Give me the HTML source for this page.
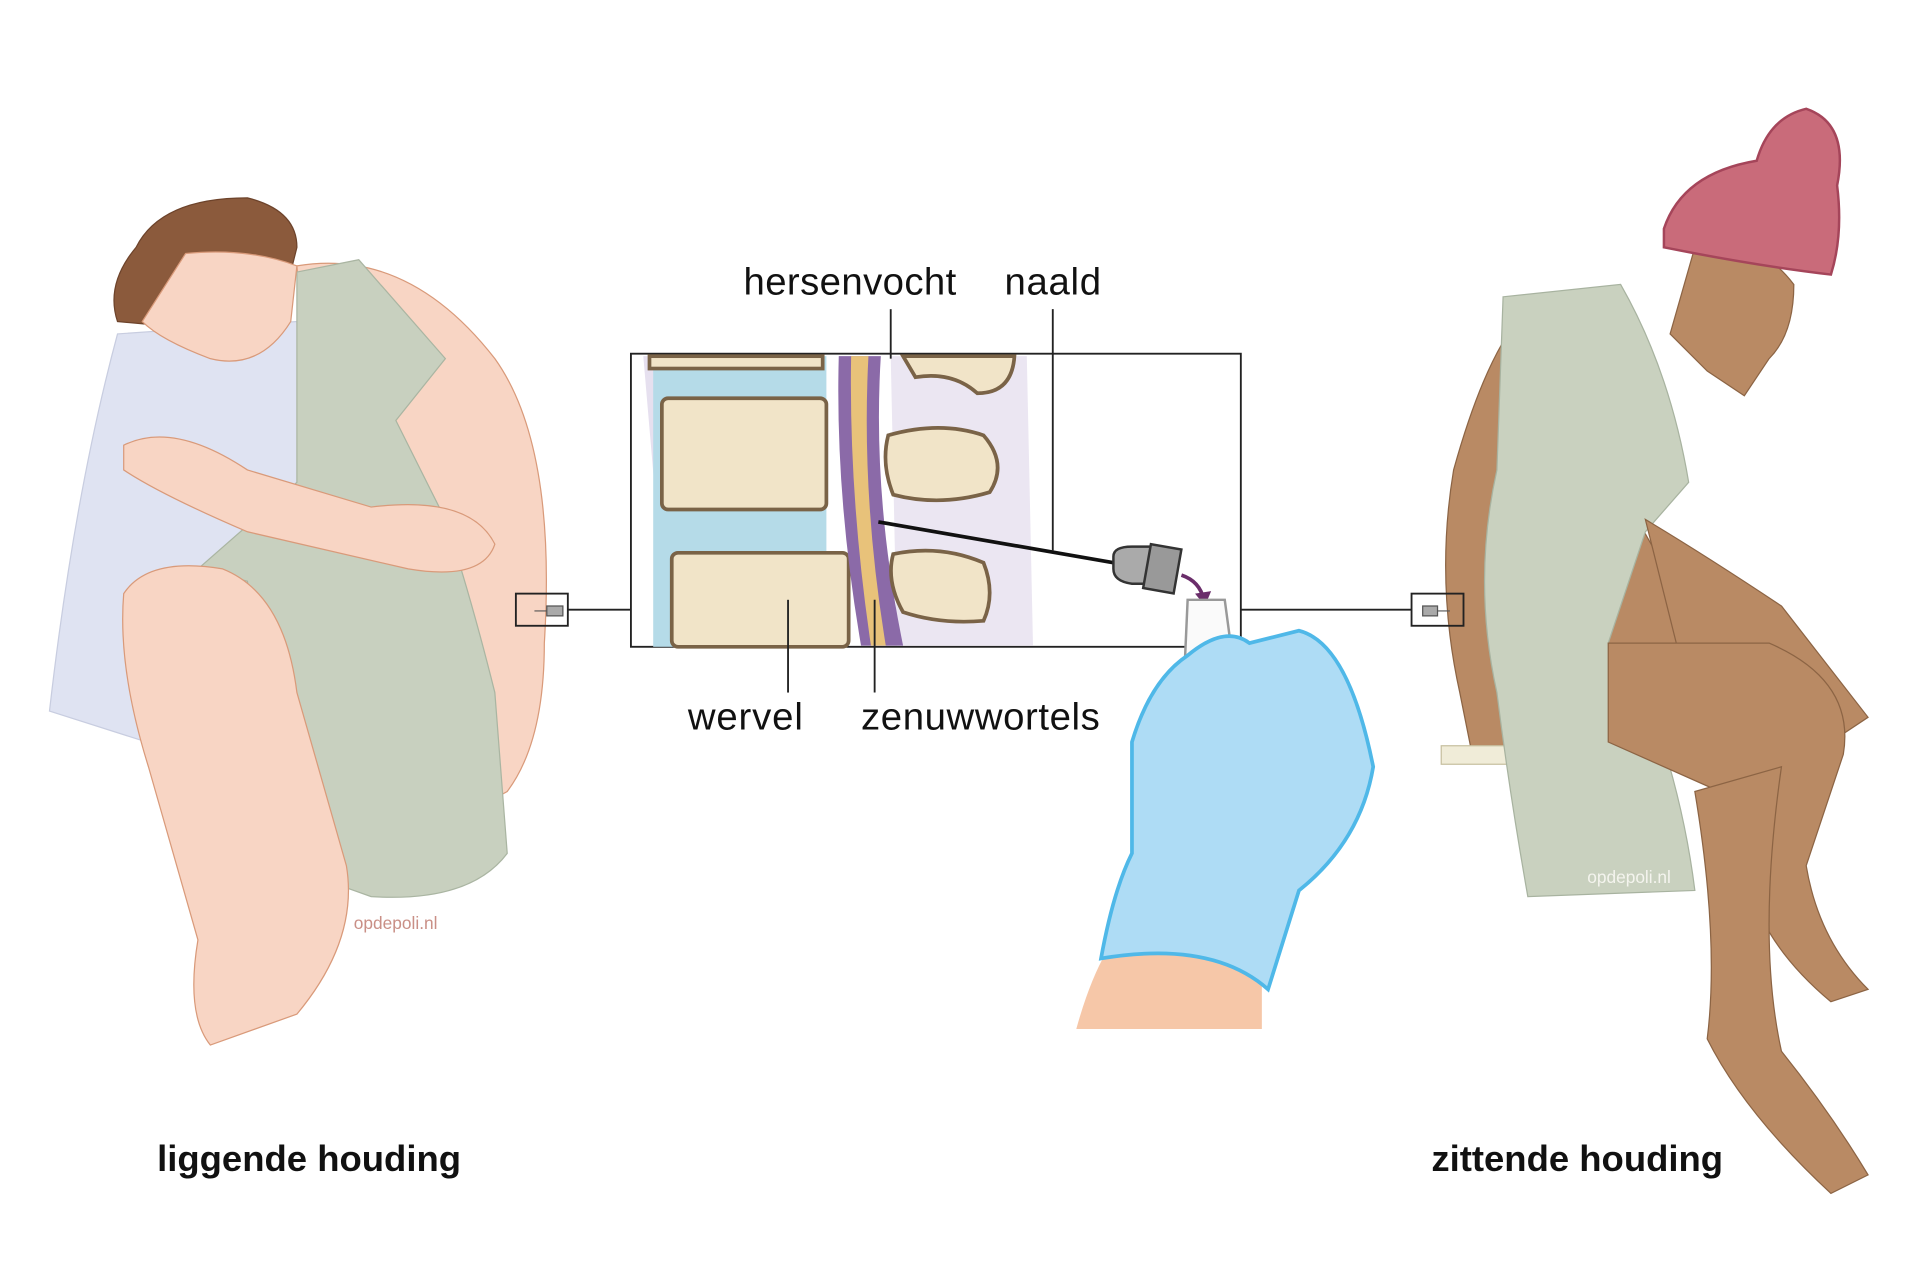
<!DOCTYPE html>
<html><head><meta charset="utf-8"><style>
html,body{margin:0;padding:0;background:#fff;width:1920px;height:1280px;overflow:hidden}
svg{display:block}
text{font-family:"Liberation Sans",sans-serif}
</style></head><body>
<svg width="1920" height="1280" viewBox="0 0 1552 1035" preserveAspectRatio="none" xmlns="http://www.w3.org/2000/svg">
<!-- LEFT FIGURE -->
<path d="M95,270 Q60,400 40,575 L150,610 L250,600 L260,470 L240,260 Z" fill="#dfe3f2" stroke="#c8cde0"/>
<path d="M240,215 Q330,200 400,290 Q450,360 440,520 Q440,600 410,640 L300,700 L260,470 Z" fill="#f8d5c4" stroke="#d99a7a"/>
<path d="M240,220 L290,210 L360,290 L320,340 L360,420 Q380,480 400,560 L410,690 Q380,730 300,725 L230,700 L200,470 L160,460 L240,390 Z" fill="#c8d0bf" stroke="#aab5a2"/>
<path d="M100,480 Q120,450 180,460 Q230,480 240,560 L280,700 Q290,760 240,820 L170,845 Q150,820 160,760 L120,620 Q95,540 100,480 Z" fill="#f8d5c4" stroke="#d99a7a"/>
<path d="M100,360 Q140,340 200,380 L300,410 Q380,400 400,440 Q390,470 330,460 L200,430 Q130,400 100,380 Z" fill="#f8d5c4" stroke="#d99a7a"/>
<path d="M110,200 Q130,160 200,160 Q240,170 240,200 L230,240 Q190,220 170,240 L150,265 L95,260 Q85,230 110,200 Z" fill="#8b5a3c" stroke="#6d432b"/>
<path d="M150,205 Q200,200 240,215 L235,260 Q210,300 170,290 Q130,275 115,260 Z" fill="#f8d5c4" stroke="#d99a7a"/>
<text x="286" y="751" font-size="14" fill="#c98f86">opdepoli.nl</text>
<text x="127" y="947" font-size="29.5" font-weight="bold" fill="#111">liggende houding</text>
<!-- small box left -->
<rect x="417" y="480" width="42" height="26" fill="none" stroke="#222" stroke-width="1.5"/>
<path d="M432,494 L442,494 M442,490 L455,490 L455,498 L442,498 Z" fill="#aaa" stroke="#555"/>
<line x1="459" y1="493" x2="510" y2="493" stroke="#222" stroke-width="1.5"/>
<!-- CENTER BOX -->
<rect x="510" y="286" width="493" height="237" fill="#fff" stroke="#222" stroke-width="1.5"/>
<path d="M520,288 L560,288 L560,522 L540,522 Z" fill="#e6e0ef"/>
<path d="M720,288 L830,288 L835,522 L725,522 Z" fill="#ebe6f2"/>
<rect x="528" y="288" width="140" height="235" fill="#b5dbe8"/>
<rect x="525" y="288" width="140" height="10" fill="#f1e4c8" stroke="#7a6347" stroke-width="3"/>
<rect x="535" y="322" width="133" height="90" rx="5" fill="#f1e4c8" stroke="#7a6347" stroke-width="3"/>
<rect x="543" y="447" width="143" height="76" rx="5" fill="#f1e4c8" stroke="#7a6347" stroke-width="3"/>
<path d="M678,288 L712,288 Q705,400 730,522 L696,522 Q675,400 678,288 Z" fill="#8b6aa8"/>
<path d="M688,288 L702,288 Q696,400 716,522 L704,522 Q686,400 688,288 Z" fill="#e8c27a"/>
<path d="M730,288 L820,288 Q818,318 790,318 Q770,300 740,305 Z" fill="#f1e4c8" stroke="#7a6347" stroke-width="3"/>
<path d="M718,352 Q760,340 795,352 Q815,375 800,398 Q760,410 722,400 Q712,375 718,352 Z" fill="#f1e4c8" stroke="#7a6347" stroke-width="3"/>
<path d="M722,448 Q760,440 795,455 Q805,480 795,502 Q760,505 730,495 Q716,470 722,448 Z" fill="#f1e4c8" stroke="#7a6347" stroke-width="3"/>
<line x1="710" y1="422" x2="900" y2="455" stroke="#111" stroke-width="3"/>
<path d="M900,450 Q900,442 915,442 L930,442 L930,472 L915,472 Q900,470 900,460 Z" fill="#aaa" stroke="#333" stroke-width="2"/>
<rect x="927" y="442" width="25" height="36" transform="rotate(10 940 460)" fill="#999" stroke="#333" stroke-width="2"/>
<path d="M955,465 Q970,470 973,485" fill="none" stroke="#6a2d6a" stroke-width="3"/>
<path d="M966,480 L974,490 L979,478 Z" fill="#6a2d6a"/>
<!-- labels -->
<text x="601" y="238" font-size="31" fill="#111" textLength="172">hersenvocht</text>
<text x="812" y="238" font-size="31" fill="#111" textLength="78">naald</text>
<line x1="720" y1="250" x2="720" y2="290" stroke="#222" stroke-width="1.5"/>
<line x1="851" y1="250" x2="851" y2="445" stroke="#222" stroke-width="1.5"/>
<line x1="637" y1="485" x2="637" y2="560" stroke="#222" stroke-width="1.5"/>
<line x1="707" y1="485" x2="707" y2="560" stroke="#222" stroke-width="1.5"/>
<text x="556" y="590" font-size="31" fill="#111" textLength="93">wervel</text>
<text x="696" y="590" font-size="31" fill="#111" textLength="193">zenuwwortels</text>
<line x1="1003" y1="493" x2="1141" y2="493" stroke="#222" stroke-width="1.5"/>
<!-- hand -->
<path d="M870,832 Q890,760 920,740 L1020,740 L1020,832 Z" fill="#f6c7a8"/>
<path d="M960,485 L990,485 L996,530 L958,530 Z" fill="#fafafa" stroke="#999" stroke-width="2"/>
<path d="M890,775 Q900,720 915,690 L915,600 Q930,550 960,530 Q990,505 1010,520 L1050,510 Q1090,520 1110,620 Q1100,680 1050,720 L1025,800 Q980,760 890,775 Z" fill="#aedcf5" stroke="#4fb8e8" stroke-width="3"/>
<!-- RIGHT FIGURE -->
<path d="M1230,255 Q1200,290 1175,380 Q1160,470 1180,560 L1190,610 L1300,620 L1380,520 Z" fill="#b98a64" stroke="#8c6444"/>
<path d="M1165,603 L1390,603 L1390,618 L1165,618 Z" fill="#f0ecd8" stroke="#c7c0a0"/>
<path d="M1370,200 Q1420,190 1450,230 Q1450,270 1430,290 L1410,320 L1380,300 L1350,270 Z" fill="#b98a64" stroke="#8c6444"/>
<path d="M1345,185 Q1360,140 1420,130 Q1430,95 1460,88 Q1495,100 1485,150 Q1490,190 1480,222 Q1420,215 1345,200 Z" fill="#c96b7a" stroke="#a5455a" stroke-width="2"/>
<path d="M1215,240 L1310,230 Q1350,300 1365,390 L1330,430 L1300,520 L1330,560 Q1360,640 1370,720 L1235,725 Q1220,640 1210,560 Q1190,470 1210,380 Z" fill="#c9d1bf" stroke="#a8b3a0"/>
<path d="M1330,420 Q1380,450 1440,490 L1510,580 L1480,600 L1430,560 L1360,540 Z" fill="#b98a64" stroke="#8c6444"/>
<path d="M1300,520 L1430,520 Q1500,550 1490,610 L1460,700 Q1470,760 1510,800 L1480,810 Q1420,760 1410,700 L1390,640 L1300,600 Z" fill="#b98a64" stroke="#8c6444"/>
<path d="M1370,640 L1440,620 Q1420,760 1440,850 Q1480,900 1510,950 L1480,965 Q1410,900 1380,840 Q1390,760 1370,640 Z" fill="#b98a64" stroke="#8c6444"/>
<text x="1283" y="714" font-size="14" fill="#f4f4ee">opdepoli.nl</text>
<text x="1157" y="947" font-size="29.5" font-weight="bold" fill="#111">zittende houding</text>
<rect x="1141" y="480" width="42" height="26" fill="none" stroke="#222" stroke-width="1.5"/>
<path d="M1150,490 L1162,490 L1162,498 L1150,498 Z M1162,494 L1172,494" fill="#aaa" stroke="#555"/>
</svg>
</body></html>
